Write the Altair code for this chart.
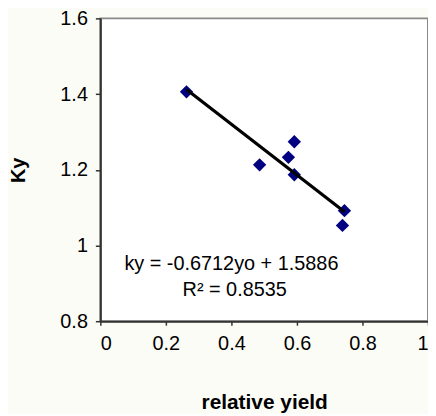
import altair as alt
import pandas as pd

# Scatter data (relative yield vs Ky)
rel_yield = [0.263, 0.486, 0.574, 0.592, 0.592, 0.745, 0.739]
ky = [1.406, 1.213, 1.233, 1.274, 1.187, 1.092, 1.053]

# Trend line end points
trend_x = [0.263, 0.745]
trend_y = [1.412, 1.089]

# Annotation
ann_text = ["ky = -0.6712yo + 1.5886", "R² = 0.8535"]
ann_x = [0.40, 0.41]
ann_y = [0.952, 0.882]

x_ticks = [0, 0.2, 0.4, 0.6, 0.8, 1.0]
y_ticks = [0.8, 1.0, 1.2, 1.4, 1.6]

pts = pd.DataFrame({"x": rel_yield, "y": ky})
trend = pd.DataFrame({"x": trend_x, "y": trend_y})
ann = pd.DataFrame({"x": ann_x, "y": ann_y, "t": ann_text})

FONT = "Liberation Sans"

xscale = alt.Scale(domain=[0, 1], nice=False, zero=False)
yscale = alt.Scale(domain=[0.8, 1.6], nice=False, zero=False)

xaxis = alt.Axis(values=x_ticks, format="~g", title="relative yield", grid=False,
                 labelFont=FONT, labelFontSize=20, labelColor="black", labelPadding=8,
                 tickSize=4, tickColor="#333333", tickWidth=1.5,
                 domainColor="#333333", domainWidth=2,
                 titleFont=FONT, titleFontSize=21, titleFontWeight="bold", titleColor="black",
                 titlePadding=39)
yaxis = alt.Axis(values=y_ticks, format="~g", title="Ky", grid=False,
                 labelFont=FONT, labelFontSize=20, labelColor="black", labelPadding=8,
                 tickSize=5, tickColor="#333333", tickWidth=1.5,
                 domainColor="#333333", domainWidth=2,
                 titleFont=FONT, titleFontSize=20, titleFontWeight="bold", titleColor="black",
                 titlePadding=32)

points = alt.Chart(pts).mark_point(shape="diamond", filled=True, color="#000080",
                                   size=180, opacity=1).encode(
    x=alt.X("x:Q", scale=xscale, axis=xaxis),
    y=alt.Y("y:Q", scale=yscale, axis=yaxis),
)

line = alt.Chart(trend).mark_line(color="black", strokeWidth=3.2).encode(
    x=alt.X("x:Q", scale=xscale),
    y=alt.Y("y:Q", scale=yscale),
)

text = alt.Chart(ann).mark_text(font=FONT, fontSize=20, color="black",
                                align="center", baseline="middle").encode(
    x=alt.X("x:Q", scale=xscale),
    y=alt.Y("y:Q", scale=yscale),
    text="t:N",
)

chart = alt.layer(points, line, text).properties(
    width=330, height=305,
    background="#fcfcf6",
    padding={"left": 93, "top": 9, "right": 0, "bottom": 92},
    autosize=alt.AutoSizeParams(type="none"),
).configure_view(
    fill="white", stroke="#888888", strokeWidth=2,
)

chart.save("out.html", embed_options={"renderer": "svg", "actions": False})
